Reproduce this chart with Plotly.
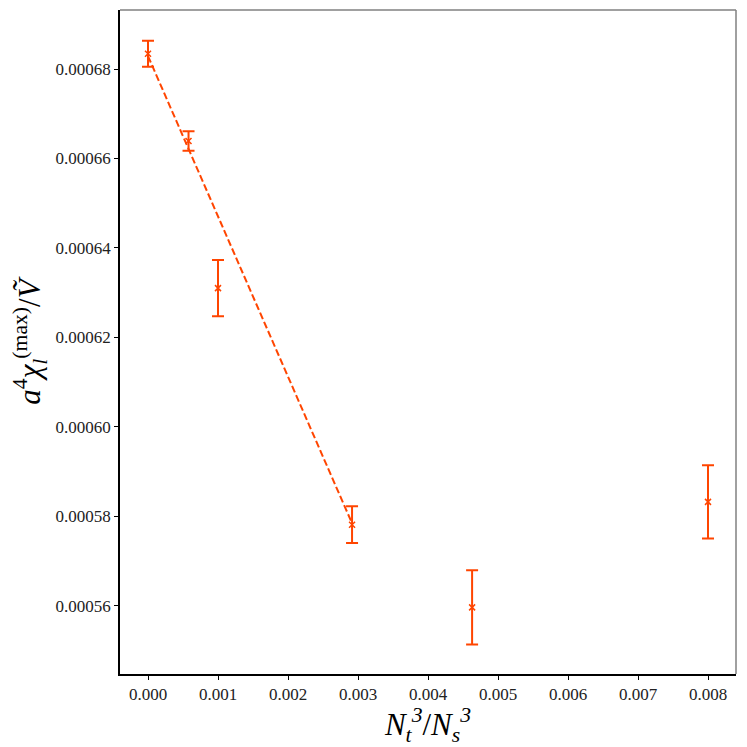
'''Peak susceptibility vs N_t^3/N_s^3 with linear extrapolation'''
import plotly.graph_objects as go

# measured points
ratio = [0.0, 0.000579, 0.001, 0.002915, 0.00463, 0.008]
chi_max = [0.0006834, 0.0006639, 0.0006310, 0.0005781, 0.0005596, 0.0005832]
chi_err = [0.0000029, 0.0000022, 0.0000063, 0.0000041, 0.0000083, 0.0000082]

# linear extrapolation through the first four points
fit_x = [0.0, 0.002915]
fit_y = [0.0006829, 0.0005784]

x_ticks = [0.000, 0.001, 0.002, 0.003, 0.004, 0.005, 0.006, 0.007, 0.008]
y_ticks = [0.00056, 0.00058, 0.00060, 0.00062, 0.00064, 0.00066, 0.00068]

COLOR = '#ff4500'
FONT = 'Liberation Serif'

fig = go.Figure()
fig.add_trace(go.Scatter(
    x=ratio, y=chi_max, mode='markers',
    marker={'symbol': 'x-thin', 'size': 6, 'line': {'color': COLOR, 'width': 1.5}, 'color': COLOR},
    error_y={'type': 'data', 'array': chi_err, 'visible': True,
             'color': COLOR, 'thickness': 2, 'width': 6},
    showlegend=False,
))
fig.add_trace(go.Scatter(
    x=fit_x, y=fit_y, mode='lines',
    line={'color': COLOR, 'width': 2, 'dash': '7px,3px'},
    showlegend=False,
))

axis_common = dict(
    showgrid=False, zeroline=False, ticks='outside', ticklen=4,
    tickcolor='black', tickfont={'family': FONT, 'size': 17, 'color': '#222'},
    showline=True, linecolor='black', linewidth=1.5, mirror=False,
)
fig.update_xaxes(
    range=[-0.0004, 0.0084], tickvals=x_ticks, tickformat='.3f',
    title={'text': '<i>N<sub>t</sub><sup>3</sup></i>/<i>N<sub>s</sub><sup>3</sup></i>',
           'font': {'family': FONT, 'size': 31, 'color': 'black'}, 'standoff': 2},
    **axis_common,
)
fig.update_yaxes(
    range=[0.0005447, 0.0006932], tickvals=y_ticks, tickformat='.5f',
    title={'text': '<i>a</i><sup>4</sup><i>χ<sub>l</sub></i><sup>(max)</sup>/<i>Ṽ</i>',
           'font': {'family': FONT, 'size': 31, 'color': 'black'}, 'standoff': 12},
    **axis_common,
)

# grey top/right frame
fig.add_shape(type='line', xref='paper', yref='paper', x0=0, x1=1, y0=1, y1=1,
              line={'color': 'gray', 'width': 1.5})
fig.add_shape(type='line', xref='paper', yref='paper', x0=1, x1=1, y0=0, y1=1,
              line={'color': 'gray', 'width': 1.5})

# page body adds ~8px offset, so shrink the figure to keep the plot box in place
fig.update_layout(
    width=739, height=739,
    margin={'l': 112, 'r': 11, 't': 2, 'b': 73},
    plot_bgcolor='white', paper_bgcolor='white',
    font={'family': FONT},
)
fig.write_html('out.html')
